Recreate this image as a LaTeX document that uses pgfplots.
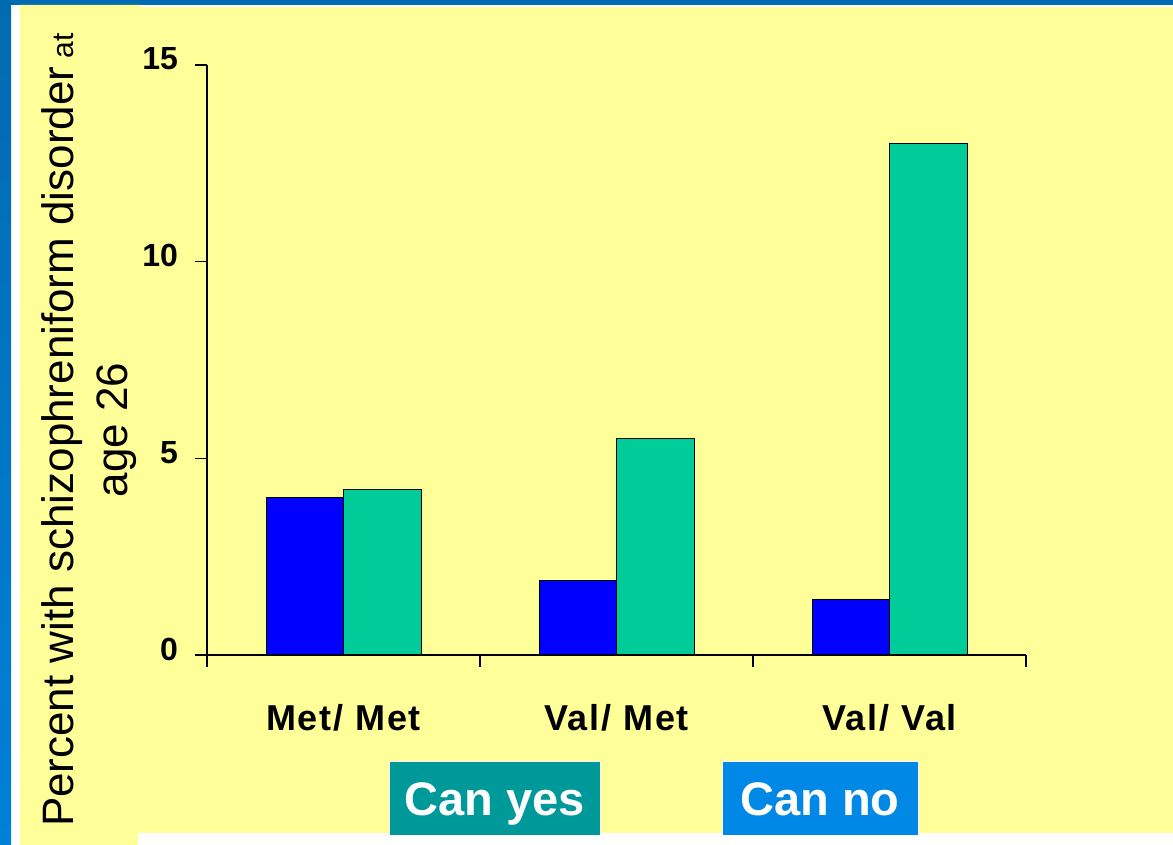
\documentclass[border=0pt]{standalone}
\usepackage{fontspec}
\setmainfont{Liberation Sans}
\usepackage{pgfplots}
\pgfplotsset{compat=1.18}
\definecolor{bgyellow}{HTML}{FFFF99}
\definecolor{topblue}{HTML}{006BB0}
\definecolor{botblue}{HTML}{0080D8}
\definecolor{barblue}{HTML}{0000FF}
\definecolor{bargreen}{HTML}{00CC99}
\definecolor{tealbox}{HTML}{009999}
\definecolor{bluebox}{HTML}{0088E6}
\begin{document}
\begin{tikzpicture}
\fill[white] (0,0) rectangle (586.5pt,422.5pt);
\shade[top color=topblue, bottom color=botblue] (0,0) rectangle (5.5pt,422.5pt);
\fill[topblue] (0,420pt) rectangle (586.5pt,422.5pt);
\fill[bgyellow] (10pt,420pt) -- (70.5pt,420pt) -- (70.5pt,419pt) -- (586.5pt,419pt) -- (586.5pt,6pt) -- (69pt,6pt) -- (69pt,0pt) -- (10pt,0pt) -- cycle;
\begin{axis}[
  at={(103.5pt,95pt)}, anchor=south west,
  scale only axis, width=409.5pt, height=295pt,
  xmin=0, xmax=3, ymin=0, ymax=15,
  axis x line=bottom, axis y line=left,
  axis line style={-, line width=0.8pt, black},
  tick align=outside, major tick length=6pt,
  tick style={black, line width=0.8pt},
  ytick={0,5,10,15},
  /pgf/number format/assume math mode=true,
  yticklabel style={font=\bfseries\fontsize{16}{16}\selectfont, xshift=-5pt, yshift=3pt},
  xtick={0,1,2,3}, xticklabels={},
  extra x ticks={0.5,1.5,2.5},
  extra x tick labels={Met/ Met, Val/ Met, Val/ Val},
  extra x tick style={major tick length=0pt,
    tick label style={font=\bfseries\fontsize{18}{18}\selectfont\addfontfeature{LetterSpace=5}, yshift=-21pt}},
  ybar=0pt, bar width=38.75pt,
]
\addplot[fill=barblue, draw=black, line width=0.5pt] coordinates {(0.5,4.0) (1.5,1.9) (2.5,1.4)};
\addplot[fill=bargreen, draw=black, line width=0.5pt] coordinates {(0.5,4.2) (1.5,5.5) (2.5,13.0)};
\end{axis}
\node[rotate=90, align=center, inner sep=0pt, font=\fontsize{22}{27}\selectfont] at (44.75pt,207.5pt)
  {Percent with schizophreniform disorder{\fontsize{15}{15}\selectfont\ at}\\age 26};
\node[fill=tealbox, draw=white, line width=0.5pt, minimum width=105.5pt, minimum height=37pt, inner sep=0pt,
  text=white, text height=17pt, text depth=0pt, font=\bfseries\fontsize{23.5}{23.5}\selectfont] at (247.25pt,23pt) {Can yes};
\node[fill=bluebox, draw=white, line width=0.5pt, minimum width=98pt, minimum height=37pt, inner sep=0pt,
  text=white, text height=17pt, text depth=0pt, font=\bfseries\fontsize{23.5}{23.5}\selectfont] at (410pt,23pt) {Can no};
\end{tikzpicture}
\end{document}
